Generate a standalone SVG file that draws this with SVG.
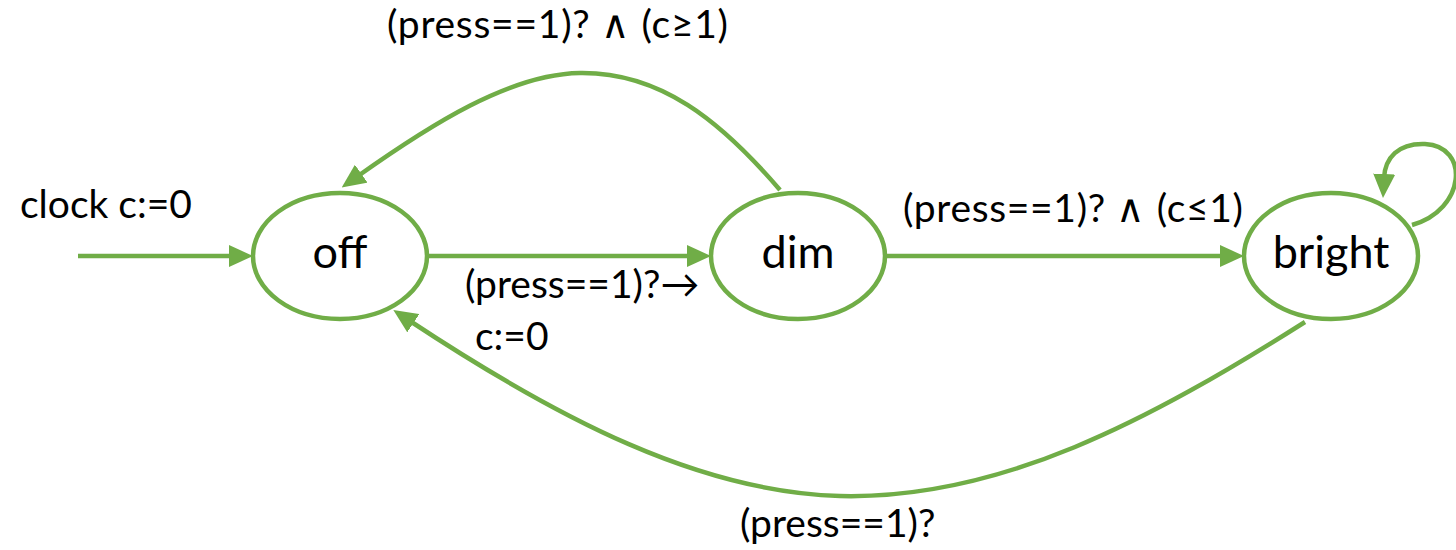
<svg xmlns="http://www.w3.org/2000/svg" width="1456" height="550" viewBox="0 0 1456 550">
<style>
.node{fill:#fff;stroke:#70AD47;stroke-width:4.5}
.edge{fill:none;stroke:#70AD47;stroke-width:4.5}
text{font-family:Lato,"Open Sans",sans-serif;font-size:39px;fill:#000}
.c{text-anchor:middle}
.big{font-size:45px}
</style>
<defs>
<marker id="arr" viewBox="0 0 24 22" refX="4" refY="11" markerWidth="24" markerHeight="22" markerUnits="userSpaceOnUse" orient="auto">
<path d="M0,0 L24,11 L0,22 z" fill="#70AD47"/>
</marker>
</defs>
<g id="connectors">
<path class="edge" d="M78,256 L233,256" marker-end="url(#arr)"/>
<path class="edge" d="M428,256 L691,256" marker-end="url(#arr)"/>
<path class="edge" d="M885,256 L1224,256" marker-end="url(#arr)"/>
<path class="edge" d="M780,190 C720,120 660,72 580,73 C510,74 430,125 358,176" marker-end="url(#arr)"/>
<path class="edge" d="M1305,322 C1150,420 1000,500 840,496 C700,492 560,420 410,321" marker-end="url(#arr)"/>
<path class="edge" d="M1412,225 C1466,210 1470,146 1425,144 C1398,143 1385,158 1384,178" marker-end="url(#arr)"/>
</g>
<g id="labels">
<text x="20" y="218">clock c:=0</text>
<text x="387" y="38" textLength="341">(press==1)? ∧ (c≥1)</text>
<text x="903" y="222" textLength="340">(press==1)? ∧ (c≤1)</text>
<text x="465" y="298">(press==1)?→</text>
<text x="475" y="350">c:=0</text>
<text x="740" y="537">(press==1)?</text>
</g>
<g id="off"><ellipse class="node" cx="340" cy="256" rx="87" ry="63"/><text class="c big" x="340" y="268">off</text></g>
<g id="dim"><ellipse class="node" cx="798" cy="256" rx="87" ry="63"/><text class="c big" x="798" y="268">dim</text></g>
<g id="bright"><ellipse class="node" cx="1331" cy="256" rx="87" ry="63"/><text class="c big" x="1331" y="268">bright</text></g>
</svg>
